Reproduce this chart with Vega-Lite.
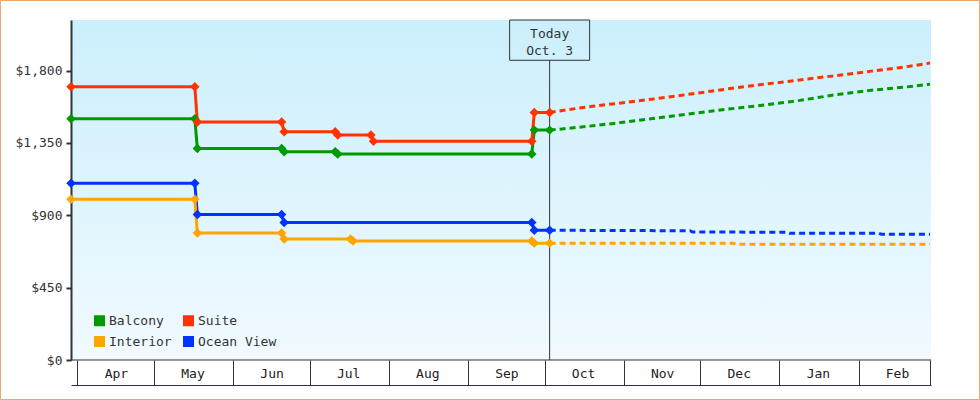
{
  "$schema": "https://vega.github.io/schema/vega-lite/v6.json",
  "width": 860,
  "height": 340,
  "autosize": {"type": "none"},
  "padding": {"left": 71, "top": 20, "right": 49, "bottom": 40},
  "background": "#ffffff",
  "config": {
    "view": {"stroke": null, "fill": {"gradient": "linear", "x1": 0, "y1": 0, "x2": 0, "y2": 1, "stops": [{"offset": 0, "color": "#CBEFFC"}, {"offset": 1, "color": "#F1FAFF"}]}},
    "font": "DejaVu Sans Mono"
  },
  "datasets": {
    "prices": [
      {"cabin": "Balcony", "date": "2024-03-29T12:00:00Z", "price": 1500, "kind": "actual"},
      {"cabin": "Balcony", "date": "2024-05-17", "price": 1500, "kind": "actual"},
      {"cabin": "Balcony", "date": "2024-05-18", "price": 1315, "kind": "actual"},
      {"cabin": "Balcony", "date": "2024-06-20", "price": 1315, "kind": "actual"},
      {"cabin": "Balcony", "date": "2024-06-21", "price": 1296, "kind": "actual"},
      {"cabin": "Balcony", "date": "2024-07-11", "price": 1296, "kind": "actual"},
      {"cabin": "Balcony", "date": "2024-07-12", "price": 1281, "kind": "actual"},
      {"cabin": "Balcony", "date": "2024-09-26", "price": 1281, "kind": "actual"},
      {"cabin": "Balcony", "date": "2024-09-27", "price": 1430, "kind": "actual"},
      {"cabin": "Balcony", "date": "2024-10-03", "price": 1430, "kind": "actual"},
      {"cabin": "Suite", "date": "2024-03-29T12:00:00Z", "price": 1700, "kind": "actual"},
      {"cabin": "Suite", "date": "2024-05-17", "price": 1700, "kind": "actual"},
      {"cabin": "Suite", "date": "2024-05-18", "price": 1480, "kind": "actual"},
      {"cabin": "Suite", "date": "2024-06-20", "price": 1480, "kind": "actual"},
      {"cabin": "Suite", "date": "2024-06-21", "price": 1420, "kind": "actual"},
      {"cabin": "Suite", "date": "2024-07-11", "price": 1420, "kind": "actual"},
      {"cabin": "Suite", "date": "2024-07-12", "price": 1400, "kind": "actual"},
      {"cabin": "Suite", "date": "2024-07-25", "price": 1400, "kind": "actual"},
      {"cabin": "Suite", "date": "2024-07-26", "price": 1360, "kind": "actual"},
      {"cabin": "Suite", "date": "2024-09-26", "price": 1360, "kind": "actual"},
      {"cabin": "Suite", "date": "2024-09-27", "price": 1540, "kind": "actual"},
      {"cabin": "Suite", "date": "2024-10-03", "price": 1540, "kind": "actual"},
      {"cabin": "Ocean View", "date": "2024-03-29T12:00:00Z", "price": 1100, "kind": "actual"},
      {"cabin": "Ocean View", "date": "2024-05-17", "price": 1100, "kind": "actual"},
      {"cabin": "Ocean View", "date": "2024-05-18", "price": 905, "kind": "actual"},
      {"cabin": "Ocean View", "date": "2024-06-20", "price": 905, "kind": "actual"},
      {"cabin": "Ocean View", "date": "2024-06-21", "price": 855, "kind": "actual"},
      {"cabin": "Ocean View", "date": "2024-09-26", "price": 855, "kind": "actual"},
      {"cabin": "Ocean View", "date": "2024-09-27", "price": 807, "kind": "actual"},
      {"cabin": "Ocean View", "date": "2024-10-03", "price": 807, "kind": "actual"},
      {"cabin": "Interior", "date": "2024-03-29T12:00:00Z", "price": 1000, "kind": "actual"},
      {"cabin": "Interior", "date": "2024-05-17", "price": 1000, "kind": "actual"},
      {"cabin": "Interior", "date": "2024-05-18", "price": 790, "kind": "actual"},
      {"cabin": "Interior", "date": "2024-06-20", "price": 790, "kind": "actual"},
      {"cabin": "Interior", "date": "2024-06-21", "price": 753, "kind": "actual"},
      {"cabin": "Interior", "date": "2024-07-17", "price": 753, "kind": "actual"},
      {"cabin": "Interior", "date": "2024-07-18", "price": 740, "kind": "actual"},
      {"cabin": "Interior", "date": "2024-09-26", "price": 740, "kind": "actual"},
      {"cabin": "Interior", "date": "2024-09-27", "price": 727, "kind": "actual"},
      {"cabin": "Interior", "date": "2024-10-03", "price": 727, "kind": "actual"},
      {"cabin": "Suite", "date": "2024-10-03", "price": 1540, "kind": "forecast"},
      {"cabin": "Suite", "date": "2024-10-17", "price": 1573, "kind": "forecast"},
      {"cabin": "Suite", "date": "2024-10-31", "price": 1599, "kind": "forecast"},
      {"cabin": "Suite", "date": "2024-11-14", "price": 1626, "kind": "forecast"},
      {"cabin": "Suite", "date": "2024-11-28", "price": 1656, "kind": "forecast"},
      {"cabin": "Suite", "date": "2024-12-12", "price": 1687, "kind": "forecast"},
      {"cabin": "Suite", "date": "2024-12-26", "price": 1715, "kind": "forecast"},
      {"cabin": "Suite", "date": "2025-01-09", "price": 1742, "kind": "forecast"},
      {"cabin": "Suite", "date": "2025-01-23", "price": 1769, "kind": "forecast"},
      {"cabin": "Suite", "date": "2025-02-06", "price": 1797, "kind": "forecast"},
      {"cabin": "Suite", "date": "2025-02-20", "price": 1825, "kind": "forecast"},
      {"cabin": "Suite", "date": "2025-03-01", "price": 1847, "kind": "forecast"},
      {"cabin": "Balcony", "date": "2024-10-03", "price": 1430, "kind": "forecast"},
      {"cabin": "Balcony", "date": "2024-10-17", "price": 1452, "kind": "forecast"},
      {"cabin": "Balcony", "date": "2024-10-31", "price": 1477, "kind": "forecast"},
      {"cabin": "Balcony", "date": "2024-11-14", "price": 1506, "kind": "forecast"},
      {"cabin": "Balcony", "date": "2024-11-28", "price": 1534, "kind": "forecast"},
      {"cabin": "Balcony", "date": "2024-12-12", "price": 1561, "kind": "forecast"},
      {"cabin": "Balcony", "date": "2024-12-26", "price": 1586, "kind": "forecast"},
      {"cabin": "Balcony", "date": "2025-01-09", "price": 1615, "kind": "forecast"},
      {"cabin": "Balcony", "date": "2025-01-23", "price": 1650, "kind": "forecast"},
      {"cabin": "Balcony", "date": "2025-02-06", "price": 1678, "kind": "forecast"},
      {"cabin": "Balcony", "date": "2025-02-20", "price": 1699, "kind": "forecast"},
      {"cabin": "Balcony", "date": "2025-03-01", "price": 1716, "kind": "forecast"},
      {"cabin": "Ocean View", "date": "2024-10-03", "price": 807, "kind": "forecast"},
      {"cabin": "Ocean View", "date": "2024-11-27", "price": 804, "kind": "forecast"},
      {"cabin": "Ocean View", "date": "2024-11-28", "price": 796, "kind": "forecast"},
      {"cabin": "Ocean View", "date": "2025-01-04", "price": 795, "kind": "forecast"},
      {"cabin": "Ocean View", "date": "2025-01-05", "price": 788, "kind": "forecast"},
      {"cabin": "Ocean View", "date": "2025-02-09", "price": 788, "kind": "forecast"},
      {"cabin": "Ocean View", "date": "2025-02-10", "price": 782, "kind": "forecast"},
      {"cabin": "Ocean View", "date": "2025-03-01", "price": 782, "kind": "forecast"},
      {"cabin": "Interior", "date": "2024-10-03", "price": 727, "kind": "forecast"},
      {"cabin": "Interior", "date": "2024-12-14", "price": 726, "kind": "forecast"},
      {"cabin": "Interior", "date": "2024-12-15", "price": 720, "kind": "forecast"},
      {"cabin": "Interior", "date": "2025-03-01", "price": 720, "kind": "forecast"}
    ]
  },
  "layer": [
    {
      "data": {"name": "prices"},
      "transform": [{"filter": "datum.kind == 'actual'"}],
      "mark": {"type": "line", "strokeWidth": 3, "opacity": 0},
      "encoding": {
        "x": {"field": "date", "type": "temporal",
              "scale": {"type": "utc", "padding": 0, "domain": [{"year": 2024, "month": 3, "date": 29, "hours": 12, "utc": true}, {"year": 2025, "month": 3, "date": 1, "hours": 9, "minutes": 24, "utc": true}]},
              "axis": {"orient": "bottom", "offset": 25, "tickCount": {"interval": "month", "step": 1}, "format": "%b",
                       "labelExpr": "utcmonth(datum.value) == 2 ? '' : datum.label",
                       "tickSize": -25, "tickWidth": 1, "tickColor": "#333333", "labelPadding": 13, "labelBaseline": "middle", "labelAlign": "center",
                       "labelOffset": 38.5, "labelFlush": false, "labelOverlap": false, "domainColor": "#333333", "domainWidth": 1,
                       "labelFont": "DejaVu Sans Mono", "labelFontSize": 13, "labelColor": "#222222", "title": null, "grid": false}},
        "y": {"field": "price", "type": "quantitative",
              "scale": {"domain": [0, 2115], "nice": false},
              "axis": {"values": [0, 450, 900, 1350, 1800], "format": "$,.0f", "tickSize": 5, "tickWidth": 2, "tickColor": "#333333",
                       "domainColor": "#333333", "domainWidth": 2, "labelPadding": 4, "labelFont": "DejaVu Sans Mono", "labelFontSize": 13,
                       "labelColor": "#333333", "title": null, "grid": false}},
        "color": {"field": "cabin", "type": "nominal",
                  "scale": {"domain": ["Balcony", "Interior", "Suite", "Ocean View"], "range": ["#009900", "#FFA500", "#FF3300", "#0033FF"]},
                  "legend": {"orient": "none", "legendX": 22, "legendY": 294, "columns": 2, "title": null,
                             "symbolType": "square", "symbolSize": 121, "symbolStrokeWidth": 0, "symbolOpacity": 1,
                             "labelFont": "DejaVu Sans Mono", "labelFontSize": 13, "labelColor": "#333333", "labelOffset": 3,
                             "columnPadding": 10, "rowPadding": 7, "padding": 0,
                             "encode": {"symbols": {"update": {"fill": {"scale": "color", "field": "value"}, "fillOpacity": {"value": 1}, "strokeWidth": {"value": 0}, "shape": {"value": "square"}, "opacity": {"value": 1}}}}}}
      }
    },
    {
      "data": {"values": [{}]},
      "mark": {"type": "rect", "clip": false, "fill": "transparent", "stroke": "#E9A865", "strokeWidth": 1},
      "encoding": {
        "x": {"datum": {"year": 2024, "month": 3, "date": 1, "hours": 21, "minutes": 7, "utc": true}, "type": "temporal"},
        "x2": {"datum": {"year": 2025, "month": 3, "date": 20, "hours": 9, "minutes": 36, "utc": true}},
        "y": {"datum": 2236.3, "type": "quantitative"},
        "y2": {"datum": -245.7}
      }
    },
    {
      "data": {"values": [{}]},
      "mark": {"type": "rule", "color": "#333333", "strokeWidth": 1},
      "encoding": {
        "y": {"datum": 0, "type": "quantitative"}
      }
    },
    {
      "data": {"values": [{}]},
      "mark": {"type": "bar", "width": 80, "fill": "transparent", "stroke": "#333333", "strokeWidth": 1},
      "encoding": {
        "x": {"datum": {"year": 2024, "month": 10, "date": 3, "utc": true}, "type": "temporal"},
        "y": {"datum": 1864.5, "type": "quantitative"},
        "y2": {"datum": 2115}
      }
    },
    {
      "data": {"values": [{}]},
      "mark": {"type": "rule", "color": "#333333", "strokeWidth": 1},
      "encoding": {
        "x": {"datum": {"year": 2024, "month": 10, "date": 3, "utc": true}, "type": "temporal"},
        "y": {"datum": 0, "type": "quantitative"},
        "y2": {"datum": 1864.5}
      }
    },
    {
      "data": {"name": "prices"},
      "transform": [{"filter": "datum.kind == 'actual'"}],
      "mark": {"type": "line", "strokeWidth": 3},
      "encoding": {
        "x": {"field": "date", "type": "temporal"},
        "y": {"field": "price", "type": "quantitative"},
        "color": {"field": "cabin", "type": "nominal"}
      }
    },
    {
      "data": {"name": "prices"},
      "transform": [{"filter": "datum.kind == 'forecast'"}],
      "mark": {"type": "line", "strokeWidth": 3, "strokeDash": [6, 4]},
      "encoding": {
        "x": {"field": "date", "type": "temporal"},
        "y": {"field": "price", "type": "quantitative"},
        "color": {"field": "cabin", "type": "nominal"}
      }
    },
    {
      "data": {"name": "prices"},
      "transform": [{"filter": "datum.kind == 'actual'"}],
      "mark": {"type": "point", "shape": "diamond", "filled": true, "size": 90, "opacity": 1},
      "encoding": {
        "x": {"field": "date", "type": "temporal"},
        "y": {"field": "price", "type": "quantitative"},
        "color": {"field": "cabin", "type": "nominal"}
      }
    },
    {
      "data": {"values": [{}]},
      "mark": {"type": "text", "align": "center", "baseline": "middle", "lineHeight": 17, "font": "DejaVu Sans Mono", "fontSize": 13, "color": "#333333"},
      "encoding": {
        "x": {"datum": {"year": 2024, "month": 10, "date": 3, "utc": true}, "type": "temporal"},
        "y": {"datum": 2030, "type": "quantitative"},
        "text": {"value": ["Today", "Oct. 3"]}
      }
    }
  ]
}
